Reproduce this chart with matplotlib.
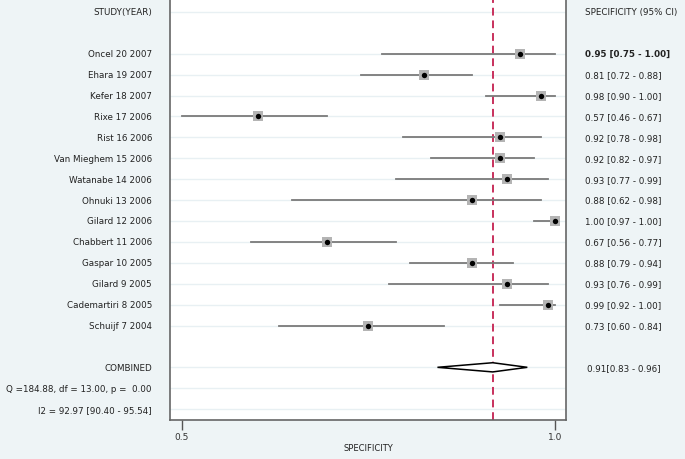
import matplotlib
matplotlib.use("Agg")
import matplotlib.pyplot as plt
from matplotlib.transforms import blended_transform_factory

plt.rcParams['font.family'] = ['DejaVu Sans']

# data
studies = ["Oncel 20 2007", "Ehara 19 2007", "Kefer 18 2007", "Rixe 17 2006",
           "Rist 16 2006", "Van Mieghem 15 2006", "Watanabe 14 2006",
           "Ohnuki 13 2006", "Gilard 12 2006", "Chabbert 11 2006",
           "Gaspar 10 2005", "Gilard 9 2005", "Cademartiri 8 2005",
           "Schuijf 7 2004"]
spec = [0.95, 0.81, 0.98, 0.57, 0.92, 0.92, 0.93, 0.88, 1.00, 0.67, 0.88, 0.93, 0.99, 0.73]
lower = [0.75, 0.72, 0.90, 0.46, 0.78, 0.82, 0.77, 0.62, 0.97, 0.56, 0.79, 0.76, 0.92, 0.60]
upper = [1.00, 0.88, 1.00, 0.67, 0.98, 0.97, 0.99, 0.98, 1.00, 0.77, 0.94, 0.99, 1.00, 0.84]
pooled = 0.91
pooled_lo = 0.83
pooled_hi = 0.96
q_text = "Q =184.88, df = 13.00, p =  0.00"
i2_text = "I2 = 92.97 [90.40 - 95.54]"

bg = "#eef4f6"
fig = plt.figure(figsize=(6.85, 4.6), dpi=100, facecolor=bg)
ax = fig.add_axes([170/685, 39/460, 396/685, 421/460])
ax.set_facecolor("white")

# row positions: header 0, studies 2..15, combined 17, Q 18, I2 19
rows = list(range(2, 2 + len(studies)))
comb_row = 17

# faint row lines
for r in [0] + rows + [comb_row, 18, 19]:
    ax.axhline(r, color="#e8f0f3", lw=1.0, zorder=0)

ax.axvline(pooled, color="#c8305c", lw=1.4, ls=(0, (4, 2.5)), zorder=1)

for y, s, lo, hi in zip(rows, spec, lower, upper):
    ax.plot([lo, hi], [y, y], color="#7a7a7a", lw=1.3, zorder=2)
ax.scatter(spec, rows, marker="s", s=60, color="#b4b4b4", zorder=3, lw=0)
ax.scatter(spec, rows, marker="o", s=15, color="black", zorder=4, lw=0)

# pooled diamond
ax.fill([pooled_lo, pooled, pooled_hi, pooled],
        [comb_row, comb_row - 0.22, comb_row, comb_row + 0.22],
        facecolor="white", edgecolor="black", lw=1.1, zorder=3)

ax.set_xlim(0.443, 1.016)
ax.set_ylim(19.52, -0.62)
ticks = [min(lower), 1.0]
ax.set_xticks(ticks)
ax.set_xticklabels([f"{t:.1f}" for t in ticks])
ax.tick_params(axis="x", length=7, width=1, color="#555555", pad=2,
               direction="out", labelsize=6.5, labelcolor="#333333")
ax.set_yticks([])
ax.set_xlabel("SPECIFICITY", fontsize=6, color="#222222", labelpad=1)

for sp in ["left", "right", "bottom"]:
    ax.spines[sp].set_color("#666666")
    ax.spines[sp].set_linewidth(1.2)
ax.spines["top"].set_visible(False)

tr = blended_transform_factory(fig.transFigure, ax.transData)
fs = 6.3
tc = "#222222"
lx = 152/685
rx = 585/685
ax.text(lx, 0, "STUDY(YEAR)", transform=tr, ha="right", va="center", fontsize=fs, color=tc, clip_on=False)
ax.text(rx, 0, "SPECIFICITY (95% CI)", transform=tr, ha="left", va="center", fontsize=fs, color=tc, clip_on=False)
for i, (y, name, s, lo, hi) in enumerate(zip(rows, studies, spec, lower, upper)):
    ax.text(lx, y, name, transform=tr, ha="right", va="center", fontsize=fs, color=tc, clip_on=False)
    ax.text(rx, y, f"{s:.2f} [{lo:.2f} - {hi:.2f}]", transform=tr, ha="left", va="center",
            fontsize=fs, color=tc, fontweight="bold" if i == 0 else "normal", clip_on=False)
ax.text(lx, comb_row, "COMBINED", transform=tr, ha="right", va="center", fontsize=fs, color=tc, clip_on=False)
ax.text(587/685, comb_row, f"{pooled:.2f}[{pooled_lo:.2f} - {pooled_hi:.2f}]", transform=tr,
        ha="left", va="center", fontsize=fs, color=tc, clip_on=False)
ax.text(lx, 18, q_text, transform=tr, ha="right", va="center", fontsize=fs, color=tc, clip_on=False)
ax.text(lx, 19, i2_text, transform=tr, ha="right", va="center", fontsize=fs, color=tc, clip_on=False)

fig.savefig("out.png", dpi=100, facecolor=bg)
